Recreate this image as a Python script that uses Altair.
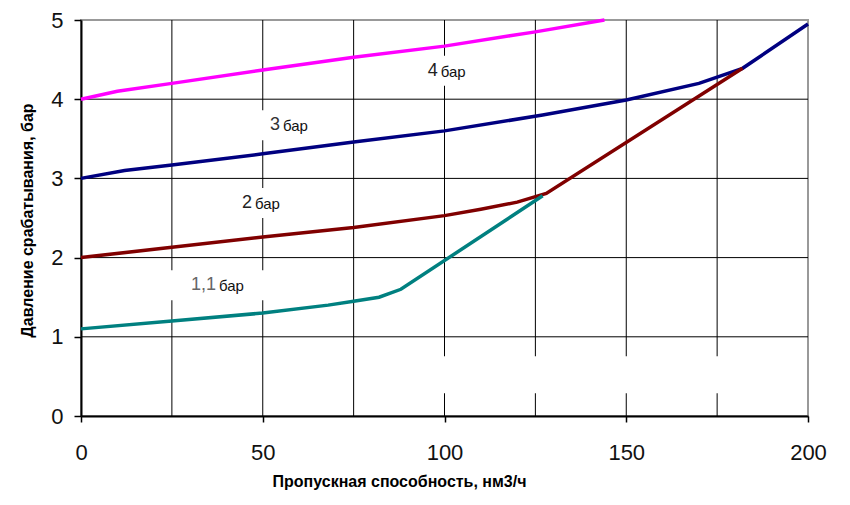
import altair as alt
import pandas as pd

# axis ticks and grid
x_ticks = [0, 50, 100, 150, 200]
y_ticks = [0, 1, 2, 3, 4, 5]
x_grid = [25, 50, 75, 100, 125, 150, 175]
y_grid = [1, 2, 3, 4]

# series
s4_x = [0, 10, 25, 50, 75, 100, 118, 125, 144]
s4_y = [4.0, 4.1, 4.2, 4.37, 4.53, 4.67, 4.8, 4.85, 5.0]

s3_x = [0, 12, 25, 50, 75, 100, 127, 150, 170, 182, 200]
s3_y = [3.0, 3.1, 3.17, 3.31, 3.46, 3.6, 3.8, 3.99, 4.2, 4.39, 4.95]

s2_x = [0, 25, 50, 75, 100, 110, 120, 128, 182]
s2_y = [2.0, 2.13, 2.26, 2.38, 2.53, 2.61, 2.7, 2.81, 4.39]

s11_x = [0, 25, 50, 68, 75, 82, 88, 127]
s11_y = [1.1, 1.2, 1.3, 1.4, 1.45, 1.5, 1.6, 2.78]

series_names = ["4", "3", "2", "1,1"]
series_colors = ["#ff00ff", "#000080", "#800000", "#008080"]

# in-plot labels
label_num = ["4", "3", "2", "1,1"]
label_unit = ["бар", "бар", "бар", "бар"]
label_x = [98.4, 55.0, 47.3, 37.4]
label_y = [4.36, 3.67, 2.69, 1.65]
label_num_color = ["#222222", "#333333", "#222222", "#666666"]

# empty label box (gap in the grid lower right)
blank_x = [137]
blank_y = [0.52]

rows = []
for name, xs_, ys_ in [("4", s4_x, s4_y), ("3", s3_x, s3_y), ("2", s2_x, s2_y), ("1,1", s11_x, s11_y)]:
    for i, (a, b) in enumerate(zip(xs_, ys_)):
        rows.append({"series": name, "x": a, "y": b, "order": i})
lines_df = pd.DataFrame(rows)

labels_df = pd.DataFrame({"num": label_num, "unit": label_unit, "x": label_x,
                          "y": label_y, "c": label_num_color})
blank_df = pd.DataFrame({"x": blank_x, "y": blank_y})

xs = alt.Scale(domain=[0, 200], nice=False, zero=False)
ys = alt.Scale(domain=[0, 5], nice=False, zero=False)

FONT = "Liberation Sans"

x_axis = alt.Axis(values=x_ticks, grid=False, domainColor="#000000", domainWidth=2,
                  tickColor="#000000", tickSize=6, tickWidth=1.5, format="d",
                  labelFontSize=22, labelColor="#111111", labelPadding=20, labelFont=FONT,
                  labelFlush=False,
                  title="Пропускная способность, нм3/ч", titleFont=FONT,
                  titleFontSize=16, titleFontWeight="bold", titleColor="#000000",
                  titleX=318, titleY=65, titleBaseline="middle")
y_axis = alt.Axis(values=y_ticks, grid=False, domainColor="#000000", domainWidth=2,
                  tickColor="#000000", tickSize=7, tickWidth=1.5, format="d",
                  labelFontSize=22, labelColor="#111111", labelPadding=11, labelFont=FONT,
                  labelFlush=False,
                  title="Давление срабатывания, бар", titleFont=FONT,
                  titleFontSize=16, titleFontWeight="bold", titleColor="#000000",
                  titleX=-54, titleY=200, titleAngle=-90, titleBaseline="middle")

vgrid = alt.Chart(pd.DataFrame({"x": x_grid})).mark_rule(color="#000000", strokeWidth=1).encode(
    x=alt.X("x:Q", scale=xs, axis=x_axis))
hgrid = alt.Chart(pd.DataFrame({"y": y_grid})).mark_rule(color="#000000", strokeWidth=1).encode(
    y=alt.Y("y:Q", scale=ys, axis=y_axis))

boxes = alt.Chart(labels_df).mark_rect(color="white", width=110, height=30).encode(
    x=alt.X("x:Q", scale=xs), y=alt.Y("y:Q", scale=ys))
blank = alt.Chart(blank_df).mark_rect(color="white", width=330, height=37).encode(
    x=alt.X("x:Q", scale=xs), y=alt.Y("y:Q", scale=ys))

lines = alt.Chart(lines_df).mark_line(strokeWidth=3.5).encode(
    x=alt.X("x:Q", scale=xs),
    y=alt.Y("y:Q", scale=ys),
    color=alt.Color("series:N", scale=alt.Scale(domain=series_names, range=series_colors), legend=None),
    order="order:Q",
)

nums = alt.Chart(labels_df).mark_text(align="right", baseline="middle", fontSize=18,
                                      font=FONT, dx=-1).encode(
    x=alt.X("x:Q", scale=xs), y=alt.Y("y:Q", scale=ys), text="num:N",
    color=alt.Color("c:N", scale=None))
units = alt.Chart(labels_df).mark_text(align="left", baseline="middle", fontSize=15,
                                       font=FONT, dx=2, dy=1, color="#111111").encode(
    x=alt.X("x:Q", scale=xs), y=alt.Y("y:Q", scale=ys), text="unit:N")

chart = alt.layer(vgrid, hgrid, boxes, blank, lines, nums, units).properties(
    width=727, height=396, autosize="none",
    padding={"left": 73, "top": 12, "right": 20, "bottom": 80},
    background="white",
).configure_view(stroke="#999999", strokeWidth=2)

chart.save("out.html", embed_options={"renderer": "svg", "actions": False})
